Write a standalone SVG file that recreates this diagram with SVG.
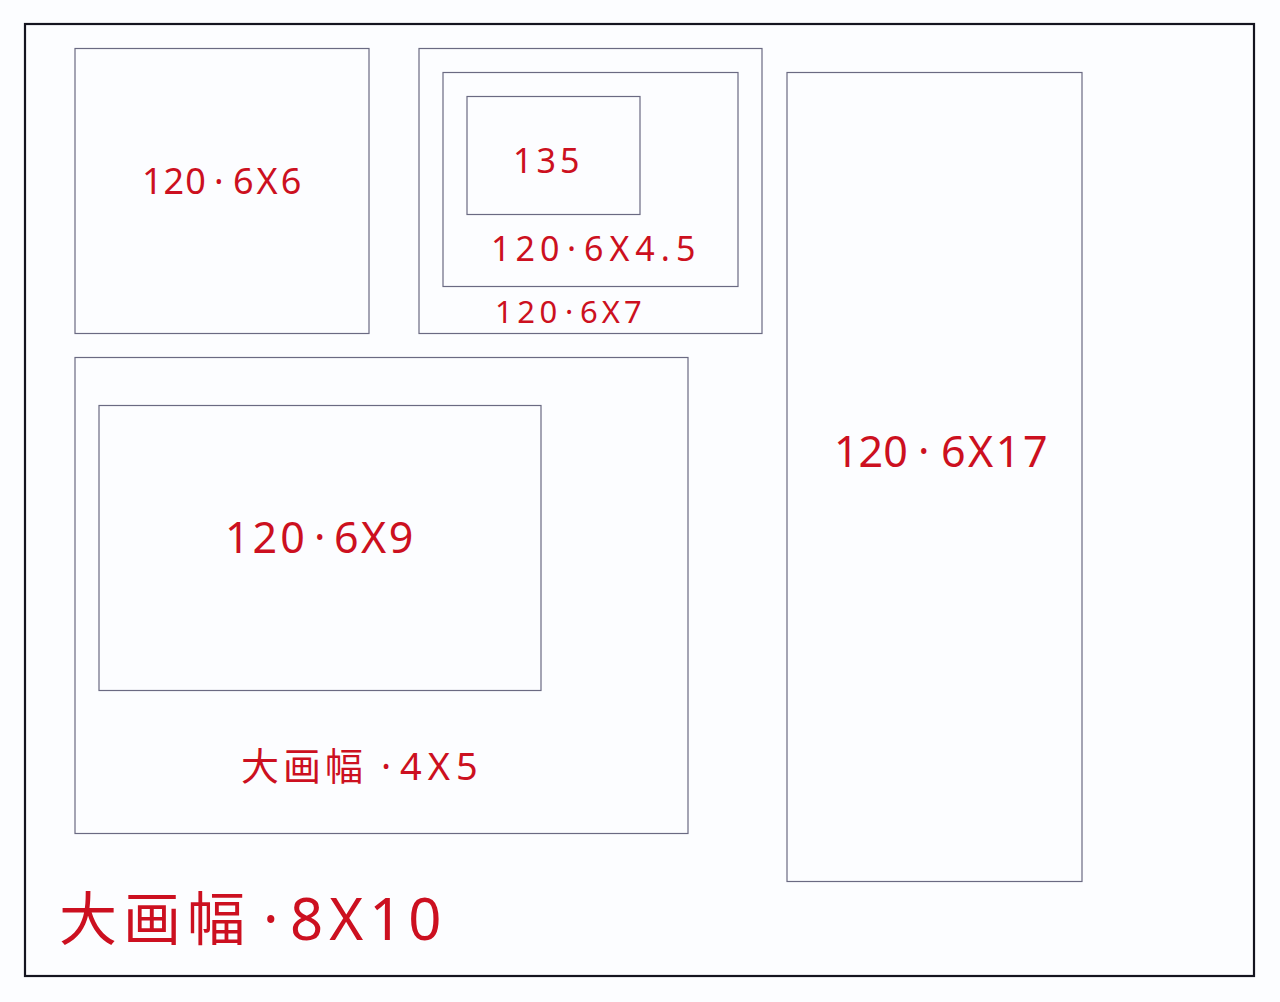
<svg xmlns="http://www.w3.org/2000/svg" width="1280" height="1002" viewBox="0 0 1280 1002">
<style>
.bg{fill:#fcfdff}
.frame{fill:none;stroke:#14141f;stroke-width:2.2}
.box{fill:none;stroke:#6a6a82;stroke-width:1.2}
.lbl{fill:#cc1020;font-family:"Noto Sans","Noto Sans CJK SC",sans-serif}
</style>
<rect class="bg" x="0" y="0" width="1280" height="1002"/>
<g id="frame-8x10">
<rect class="frame" x="25" y="24" width="1229" height="952"/>
<text class="lbl" y="940" font-size="58"><tspan x="59" letter-spacing="6">大画幅</tspan><tspan x="263">·</tspan><tspan x="290" letter-spacing="6">8X10</tspan></text>
</g>
<g id="n-6x6">
<rect class="box" x="75" y="48.5" width="294" height="285"/>
<text class="lbl" y="194" font-size="36"><tspan x="142" letter-spacing="1">120</tspan><tspan x="214">·</tspan><tspan x="233" letter-spacing="3">6X6</tspan></text>
</g>
<g id="n-6x7">
<rect class="box" x="419" y="48.5" width="343" height="285"/>
<text class="lbl" y="323" font-size="31"><tspan x="495" letter-spacing="4.5">120</tspan><tspan x="565">·</tspan><tspan x="580" letter-spacing="4">6X7</tspan></text>
</g>
<g id="n-6x45">
<rect class="box" x="443" y="72.5" width="295" height="214"/>
<text class="lbl" y="261" font-size="34"><tspan x="491" letter-spacing="5">120</tspan><tspan x="567">·</tspan><tspan x="584" letter-spacing="6">6X4.5</tspan></text>
</g>
<g id="n-135">
<rect class="box" x="467" y="96.5" width="173" height="118"/>
<text class="lbl" x="513" y="173" font-size="34" letter-spacing="4">135</text>
</g>
<g id="n-4x5">
<rect class="box" x="75" y="357.5" width="613" height="476"/>
<text class="lbl" y="780" font-size="38"><tspan x="241" letter-spacing="4">大画幅</tspan><tspan x="381">·</tspan><tspan x="400" letter-spacing="6">4X5</tspan></text>
</g>
<g id="n-6x9">
<rect class="box" x="99" y="405.5" width="442" height="285"/>
<text class="lbl" y="553" font-size="43"><tspan x="225" letter-spacing="3">120</tspan><tspan x="314">·</tspan><tspan x="334" letter-spacing="2.5">6X9</tspan></text>
</g>
<g id="n-6x17">
<rect class="box" x="787" y="72.5" width="295" height="809"/>
<text class="lbl" y="467" font-size="43"><tspan x="834" letter-spacing="0">120</tspan><tspan x="918">·</tspan><tspan x="941" letter-spacing="2.5">6X17</tspan></text>
</g>
<g id="connectors"></g>
</svg>
